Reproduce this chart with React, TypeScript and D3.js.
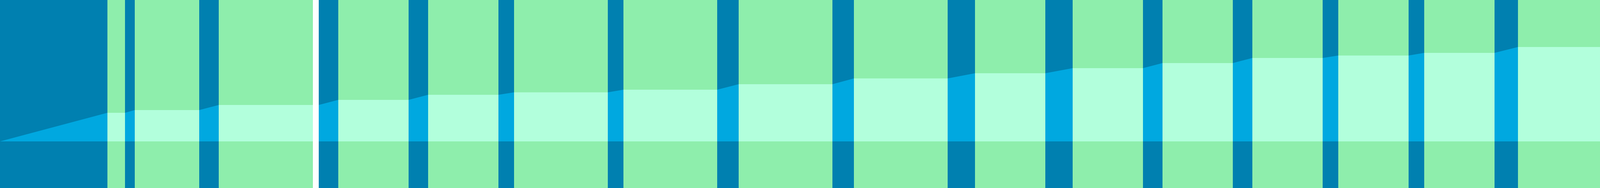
import React, { FunctionComponent, useEffect, useRef } from "react";
import { area, scaleLinear, select } from "d3";

// each ramp phase (dark band) is followed by a hold phase (green band)
const rampStart = [0, 320, 510, 816, 1046, 1276, 1556, 1836, 2131, 2426, 2676, 2926, 3156, 3386, 3606, 3826];
const rampEnd = [275, 345, 560, 866, 1096, 1316, 1596, 1891, 2186, 2496, 2746, 2976, 3206, 3426, 3646, 3886];
const holdEnd = [320, 510, 801, 1046, 1276, 1556, 1836, 2131, 2426, 2676, 2926, 3156, 3386, 3606, 3826, 4127];
const holdLevel = [73, 80, 93, 106, 119, 125.3, 132, 146, 160.7, 174, 187, 200, 213, 219.3, 226, 241];
const startLevel = 0;

const colors = {
  ramp: "#0080b0",
  rampFill: "#00a8e0",
  hold: "#8eeeac",
  holdFill: "#b2ffdc",
};

const App: FunctionComponent = () => {
  const svgRef = useRef(null);

  // define display
  const w = 4127;
  const h = 480;
  const base = 361;

  useEffect(() => {
    const x = scaleLinear().domain([0, 4127]).range([0, w]);
    const y = scaleLinear().domain([0, 361]).range([base, 0]);

    // line points: climb during a ramp, stay flat during a hold
    const points: [number, number][] = [[rampStart[0], startLevel]];
    holdLevel.forEach((lvl, i) => {
      points.push([rampEnd[i], lvl]);
      points.push([holdEnd[i], lvl]);
      if (i + 1 < rampStart.length) points.push([rampStart[i + 1], lvl]);
    });

    const ramps = rampStart.map((s, i) => ({ s, e: rampEnd[i] }));
    const holds = rampEnd.map((s, i) => ({ s, e: holdEnd[i] }));

    const svg = select(svgRef.current);
    svg.selectAll("*").remove();

    const defs = svg.append("defs");
    const clip = (id: string, data: { s: number; e: number }[]) =>
      defs
        .append("clipPath")
        .attr("id", id)
        .selectAll("rect")
        .data(data)
        .enter()
        .append("rect")
        .attr("x", (d) => x(d.s))
        .attr("width", (d) => x(d.e) - x(d.s))
        .attr("y", 0)
        .attr("height", h);
    clip("clip-ramp", ramps);
    clip("clip-hold", holds);

    const band = (data: { s: number; e: number }[], fill: string) =>
      svg
        .append("g")
        .selectAll("rect")
        .data(data)
        .enter()
        .append("rect")
        .attr("x", (d) => x(d.s))
        .attr("width", (d) => x(d.e) - x(d.s))
        .attr("y", 0)
        .attr("height", h)
        .attr("fill", fill);
    band(ramps, colors.ramp);
    band(holds, colors.hold);

    const areaMaker = area<[number, number]>()
      .x((d) => x(d[0]))
      .y0(y(0))
      .y1((d) => y(d[1]));

    svg
      .append("path")
      .datum(points)
      .attr("d", areaMaker)
      .attr("fill", colors.rampFill)
      .attr("clip-path", "url(#clip-ramp)");

    svg
      .append("path")
      .datum(points)
      .attr("d", areaMaker)
      .attr("fill", colors.holdFill)
      .attr("clip-path", "url(#clip-hold)");
  }, []);

  return (
    <svg
      ref={svgRef}
      width={w}
      height={h}
      style={{ position: "absolute", left: 0, top: 0, display: "block" }}
    />
  );
};

export default App;
